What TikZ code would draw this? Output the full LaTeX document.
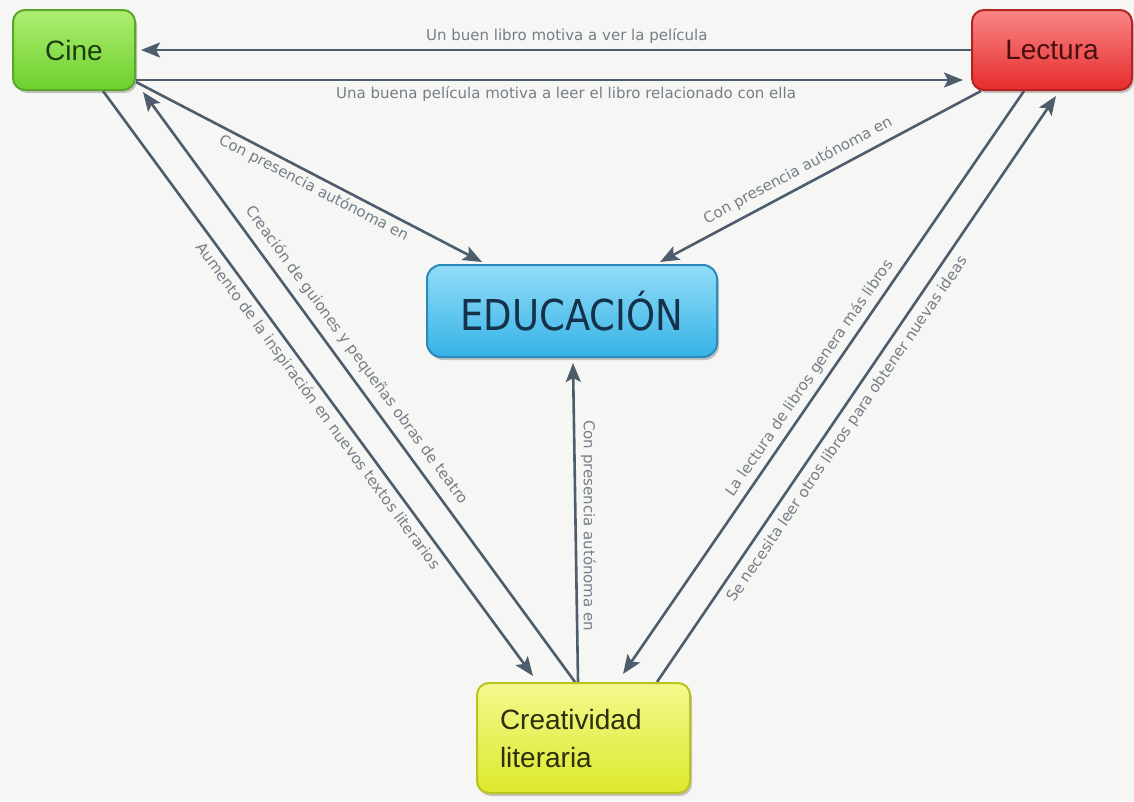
\documentclass[tikz,border=0pt]{standalone}
\usepackage{fontspec}
\usepackage{graphicx}
\setmainfont{Liberation Sans}
\newfontfamily\labelfont{DejaVu Sans}
\usetikzlibrary{arrows.meta,shadows}
\pgfdeclarelayer{background}
\pgfsetlayers{background,main}

\definecolor{paper}{HTML}{F6F6F5}
\definecolor{linec}{HTML}{4E5D6B}
\definecolor{labelc}{HTML}{767E87}
\definecolor{cinetop}{HTML}{AEEE72}
\definecolor{cinebot}{HTML}{6CD02C}
\definecolor{cinebrd}{HTML}{58A62A}
\definecolor{cinetxt}{HTML}{1E3C12}
\definecolor{lectop}{HTML}{F98686}
\definecolor{lecbot}{HTML}{E72C2C}
\definecolor{lecbrd}{HTML}{B52222}
\definecolor{lectxt}{HTML}{4A1010}
\definecolor{edutop}{HTML}{92DCF8}
\definecolor{edubot}{HTML}{36B3E6}
\definecolor{edubrd}{HTML}{2A8BBA}
\definecolor{edutxt}{HTML}{15324A}
\definecolor{cretop}{HTML}{F3F98E}
\definecolor{crebot}{HTML}{DCE92C}
\definecolor{crebrd}{HTML}{B8C41F}
\definecolor{cretxt}{HTML}{2E2E0C}

\tikzset{
  conceptbox/.style={rounded corners=12pt, draw, line width=2pt, inner sep=0pt,
    drop shadow={shadow xshift=2pt, shadow yshift=-3pt, opacity=0.3, fill=black!70}},
  boxfont/.style={font=\fontsize{28}{38}\selectfont},
  conn/.style={draw=linec, line width=2.6pt,
    -{Stealth[length=19pt,width=15pt,inset=4pt]}},
  lbl/.style={font=\labelfont\fontsize{15}{18}\selectfont, text=labelc, inner sep=5pt}
}

\begin{document}
\begin{tikzpicture}[x=1pt,y=-1pt]
\useasboundingbox (0,0) rectangle (1134,801);

% concepts
\node[conceptbox, boxfont, draw=cinebrd, top color=cinetop, bottom color=cinebot,
      text=cinetxt, minimum width=122pt, minimum height=80pt] (cine) at (74,50) {Cine};
\node[conceptbox, boxfont, draw=lecbrd, top color=lectop, bottom color=lecbot,
      text=lectxt, minimum width=160pt, minimum height=80pt] (lectura) at (1052,50) {Lectura};
\node[conceptbox, rounded corners=14pt, draw=edubrd, top color=edutop, bottom color=edubot,
      text=edutxt, minimum width=290pt, minimum height=92pt,
      font=\labelfont\fontsize{37}{40}\selectfont] (edu) at (572,311)
      {\scalebox{1}[1.15]{EDUCACIÓN}};
\node[conceptbox, boxfont, draw=crebrd, top color=cretop, bottom color=crebot,
      text=cretxt, minimum height=110pt, text width=167pt, inner xsep=23pt,
      align=left] (crea) at (583.5,738) {Creatividad\\literaria};

\begin{pgfonlayer}{background}
\fill[paper] (0,0) rectangle (1134,801);

% Cine <-> Lectura
\draw[conn] (lectura.west) --
  node[lbl, sloped, above, pos=0.487] {Un buen libro motiva a ver la película}
  ([xshift=5pt]cine.east);
\draw[conn] ([yshift=-30pt]cine.east) --
  node[lbl, sloped, below, pos=0.52] {Una buena película motiva a leer el libro relacionado con ella}
  ([xshift=-8pt,yshift=-30pt]lectura.west);

% towards EDUCACIÓN
\draw[conn] ([yshift=-32pt]cine.east) --
  node[lbl, sloped, below, pos=0.53, inner sep=3.5pt] {Con presencia autónoma en}
  ([xshift=-90pt,yshift=2pt]edu.north);
\draw[conn] ([xshift=10pt]lectura.south west) --
  node[lbl, sloped, above, pos=0.547, inner sep=7pt] {Con presencia autónoma en}
  ([xshift=88pt,yshift=2pt]edu.north);
\draw[conn] ([xshift=-5.5pt]crea.north) --
  node[lbl, pos=0.49, rotate=-90, anchor=south, inner sep=4pt] {Con presencia autónoma en}
  ([xshift=1pt,yshift=-5pt]edu.south);

% Cine <-> Creatividad
\draw[conn] ([xshift=-8.5pt]crea.north) --
  node[lbl, sloped, above, pos=0.537, inner sep=8pt] {Creación de guiones y pequeñas obras de teatro}
  ([xshift=7pt,yshift=-1pt]cine.south east);
\draw[conn] ([xshift=29pt]cine.south) --
  node[lbl, sloped, below, pos=0.525, inner sep=5pt] {Aumento de la inspiración en nuevos textos literarios}
  ([xshift=-50.5pt,yshift=6pt]crea.north);

% Lectura <-> Creatividad
\draw[conn] ([xshift=-28pt]lectura.south) --
  node[lbl, sloped, above, pos=0.506, inner sep=5pt] {La lectura de libros genera más libros}
  ([xshift=39.5pt,yshift=8pt]crea.north);
\draw[conn] ([xshift=73.5pt]crea.north) --
  node[lbl, sloped, below, pos=0.446, inner sep=7pt] {Se necesita leer otros libros para obtener nuevas ideas}
  ([xshift=4pt,yshift=-5pt]lectura.south);
\end{pgfonlayer}
\end{tikzpicture}
\end{document}
